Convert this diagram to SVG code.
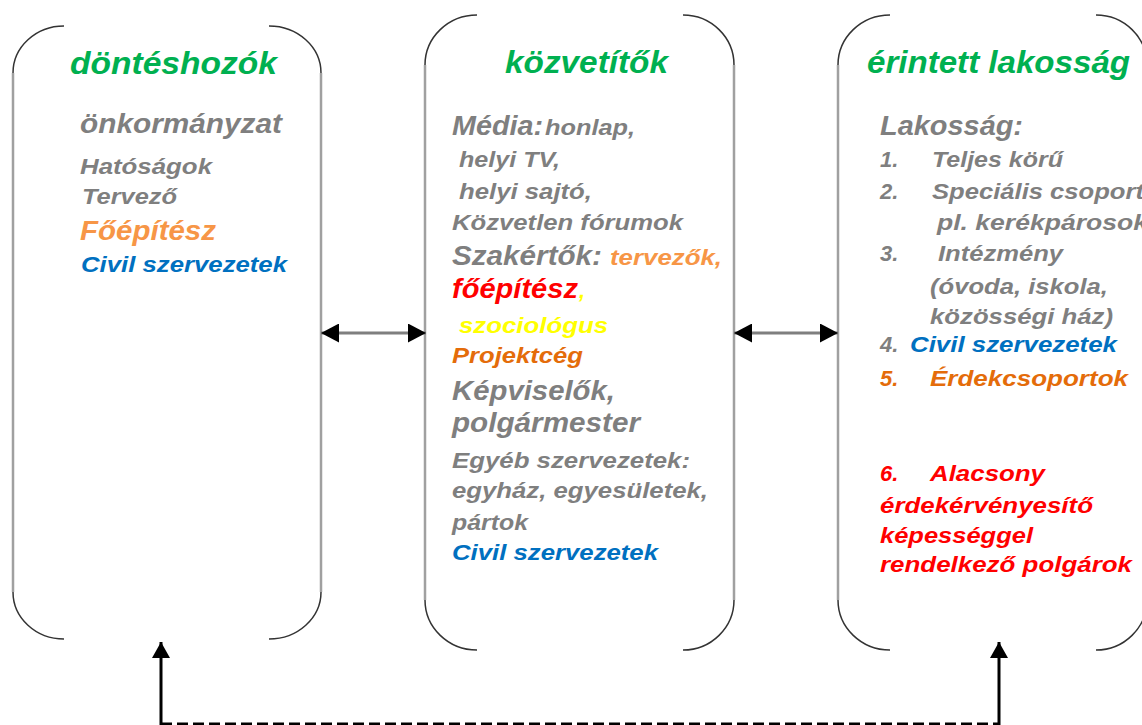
<svg xmlns="http://www.w3.org/2000/svg" width="1142" height="725" viewBox="0 0 1142 725">
<style>
.t{font-family:"Liberation Sans",Arial,sans-serif;font-weight:bold;font-style:italic}
.h{font-size:32px;fill:#00B050}
.m{font-size:28px}
.s{font-size:22px}
.g{fill:#7F7F7F}
.o{fill:#F79646}
.od{fill:#E46C0A}
.b{fill:#0070C0}
.r{fill:#FF0000}
.y{fill:#FFFF00}
.arc{fill:none;stroke:#333;stroke-width:1.5}
.side{fill:none;stroke:#A0A0A0;stroke-width:2.5}
.conn{fill:none;stroke:#7F7F7F;stroke-width:3}
.connb{fill:none;stroke:#000;stroke-width:3}
.dash{fill:none;stroke:#000;stroke-width:3;stroke-dasharray:11 5}
</style>
<defs>
<marker id="ah" markerUnits="userSpaceOnUse" markerWidth="19" markerHeight="19" refX="18" refY="9.5" orient="auto-start-reverse">
<path d="M0,0 L18,9.5 L0,19 z" fill="#000"/>
</marker>
<marker id="av" markerUnits="userSpaceOnUse" markerWidth="17" markerHeight="18" refX="16" refY="9" orient="auto">
<path d="M0,0 L16,9 L0,18 z" fill="#000"/>
</marker>
</defs>

<g id="node-donteshozok">
<path class="arc" d="M64,26 A51,47 0 0 0 13,73 M269,26 A52,47 0 0 1 321,73 M13,592 A51,47 0 0 0 64,639 M321,592 A52,47 0 0 1 269,639"/>
<path class="side" d="M13,73 V592 M321,73 V592"/>
<text class="t h" x="70" y="74" textLength="207" lengthAdjust="spacingAndGlyphs">döntéshozók</text>
<text class="t m g" x="80" y="133" textLength="202" lengthAdjust="spacingAndGlyphs">önkormányzat</text>
<text class="t s g" x="80" y="174" textLength="132" lengthAdjust="spacingAndGlyphs">Hatóságok</text>
<text class="t s g" x="82" y="204" textLength="95" lengthAdjust="spacingAndGlyphs">Tervező</text>
<text class="t m o" x="80" y="240" textLength="136" lengthAdjust="spacingAndGlyphs">Főépítész</text>
<text class="t s b" x="81" y="272" textLength="206" lengthAdjust="spacingAndGlyphs">Civil szervezetek</text>
</g>

<g id="node-kozvetitok">
<path class="arc" d="M477,15 A52,50 0 0 0 425,65 M683,15 A51,50 0 0 1 734,65 M425,600 A52,50 0 0 0 477,650 M734,600 A51,50 0 0 1 683,650"/>
<path class="side" d="M425,65 V600 M734,65 V600"/>
<text class="t h" x="505" y="73" textLength="163" lengthAdjust="spacingAndGlyphs">közvetítők</text>
<text class="t m g" x="452" y="135" textLength="91" lengthAdjust="spacingAndGlyphs">Média:</text>
<text class="t s g" x="545" y="135" textLength="90" lengthAdjust="spacingAndGlyphs">honlap,</text>
<text class="t s g" x="459" y="167" textLength="101" lengthAdjust="spacingAndGlyphs">helyi TV,</text>
<text class="t s g" x="459" y="199" textLength="133" lengthAdjust="spacingAndGlyphs">helyi sajtó,</text>
<text class="t s g" x="452" y="230" textLength="231" lengthAdjust="spacingAndGlyphs">Közvetlen fórumok</text>
<text class="t m g" x="452" y="265" textLength="150" lengthAdjust="spacingAndGlyphs">Szakértők:</text>
<text class="t s o" x="610" y="265" textLength="112" lengthAdjust="spacingAndGlyphs">tervezők,</text>
<text class="t m r" x="452" y="298" textLength="126" lengthAdjust="spacingAndGlyphs">főépítész</text>
<text class="t s y" x="579" y="298">,</text>
<text class="t s y" x="459" y="333" textLength="149" lengthAdjust="spacingAndGlyphs">szociológus</text>
<text class="t s od" x="452" y="363" textLength="131" lengthAdjust="spacingAndGlyphs">Projektcég</text>
<text class="t m g" x="452" y="400" textLength="163" lengthAdjust="spacingAndGlyphs">Képviselők,</text>
<text class="t m g" x="452" y="432" textLength="188" lengthAdjust="spacingAndGlyphs">polgármester</text>
<text class="t s g" x="452" y="468" textLength="238" lengthAdjust="spacingAndGlyphs">Egyéb szervezetek:</text>
<text class="t s g" x="452" y="498" textLength="256" lengthAdjust="spacingAndGlyphs">egyház, egyesületek,</text>
<text class="t s g" x="452" y="530" textLength="76" lengthAdjust="spacingAndGlyphs">pártok</text>
<text class="t s b" x="452" y="560" textLength="206" lengthAdjust="spacingAndGlyphs">Civil szervezetek</text>
</g>

<g id="node-erintett-lakossag">
<path class="arc" d="M890,15 A52,50 0 0 0 838,65 M1096,15 A51,50 0 0 1 1147,65 M838,600 A52,50 0 0 0 890,650 M1147,600 A51,50 0 0 1 1096,650"/>
<path class="side" d="M838,65 V600 M1147,65 V600"/>
<text class="t h" x="867" y="73" textLength="263" lengthAdjust="spacingAndGlyphs">érintett lakosság</text>
<text class="t m g" x="880" y="135" textLength="143" lengthAdjust="spacingAndGlyphs">Lakosság:</text>
<text class="t s g" x="880" y="167">1.</text>
<text class="t s g" x="932" y="167" textLength="131" lengthAdjust="spacingAndGlyphs">Teljes körű</text>
<text class="t s g" x="880" y="199">2.</text>
<text class="t s g" x="932" y="199" textLength="212" lengthAdjust="spacingAndGlyphs">Speciális csoport</text>
<text class="t s g" x="937" y="230" textLength="211" lengthAdjust="spacingAndGlyphs">pl. kerékpárosok</text>
<text class="t s g" x="880" y="261">3.</text>
<text class="t s g" x="938" y="261" textLength="125" lengthAdjust="spacingAndGlyphs">Intézmény</text>
<text class="t s g" x="930" y="294" textLength="178" lengthAdjust="spacingAndGlyphs">(óvoda, iskola,</text>
<text class="t s g" x="930" y="324" textLength="183" lengthAdjust="spacingAndGlyphs">közösségi ház)</text>
<text class="t s g" x="880" y="352">4.</text>
<text class="t s b" x="910" y="352" textLength="207" lengthAdjust="spacingAndGlyphs">Civil szervezetek</text>
<text class="t s od" x="880" y="386">5.</text>
<text class="t s od" x="930" y="386" textLength="198" lengthAdjust="spacingAndGlyphs">Érdekcsoportok</text>
<text class="t s r" x="880" y="481">6.</text>
<text class="t s r" x="930" y="481" textLength="115" lengthAdjust="spacingAndGlyphs">Alacsony</text>
<text class="t s r" x="880" y="513" textLength="213" lengthAdjust="spacingAndGlyphs">érdekérvényesítő</text>
<text class="t s r" x="880" y="543" textLength="153" lengthAdjust="spacingAndGlyphs">képességgel</text>
<text class="t s r" x="880" y="572" textLength="252" lengthAdjust="spacingAndGlyphs">rendelkező polgárok</text>
</g>

<g id="connectors">
<line class="conn" x1="321" y1="333" x2="426" y2="333" marker-start="url(#ah)" marker-end="url(#ah)"/>
<line class="conn" x1="734" y1="333" x2="838" y2="333" marker-start="url(#ah)" marker-end="url(#ah)"/>
<path class="dash" d="M161,724 H999"/>
<line class="connb" x1="161" y1="725" x2="161" y2="642" marker-end="url(#av)"/>
<line class="connb" x1="999" y1="725" x2="999" y2="642" marker-end="url(#av)"/>
</g>
</svg>
